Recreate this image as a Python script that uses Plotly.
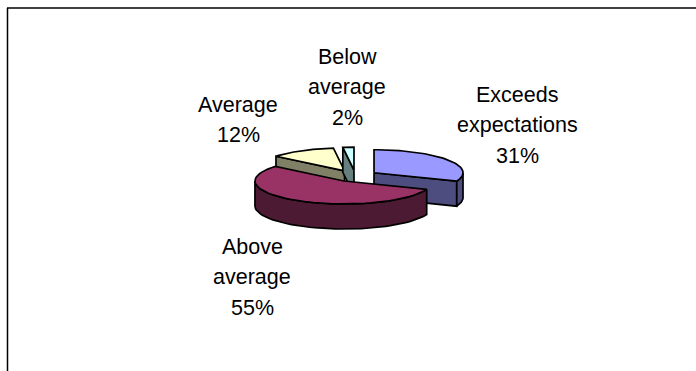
import numpy as np
import plotly.graph_objects as go

# Survey results shown as an exploded, tilted pie
categories = ["Exceeds expectations", "Above average", "Average", "Below average"]
values = [31, 55, 12, 2]
label_lines = [["Exceeds", "expectations", "31%"], ["Above", "average", "55%"], ["Average", "12%"], ["Below", "average", "2%"]]
top_colors = ["#9999FF", "#993366", "#FFFFCC", "#CCFFFF"]
side_colors = ["#4D4D80", "#4D1A33", "#808066", "#668080"]
label_x = [517, 252, 238, 347]
label_first_y = [95, 247, 105, 57]
LINE_STEP = 30.3

WIDTH, HEIGHT = 696, 371
CX, CY = 355.4, 176.0   # pie centre
RX, RY = 89.0, 23.0     # ellipse radii of the tilted disc
DEPTH = 25.0            # wall height
EXPLODE = 22.5          # slice pull-out along its bisector


def rim(cx, cy, a0, a1, n=48):
    t = np.radians(np.linspace(a0, a1, n))
    return cx + RX * np.sin(t), cy - RY * np.cos(t)


fig = go.Figure()


def poly(xs, ys, fill):
    fig.add_trace(go.Scatter(
        x=np.append(xs, xs[0]), y=np.append(ys, ys[0]), mode="lines",
        fill="toself", fillcolor=fill, hoverinfo="skip", showlegend=False,
        line=dict(color="black", width=1.7),
    ))


total = sum(values)
edges = np.concatenate([[0], np.cumsum(values)]) * 360.0 / total
slices = []
for i in range(len(values)):
    a0, a1 = edges[i], edges[i + 1]
    mid = np.radians((a0 + a1) / 2)
    cx = CX + EXPLODE * np.sin(mid)
    cy = CY - EXPLODE * RY / RX * np.cos(mid)
    slices.append((i, a0, a1, cx, cy))

# Painter's order: rear slices first, the large front slice last
for i, a0, a1, cx, cy in [slices[2], slices[3], slices[0], slices[1]]:
    # Cut faces
    for a in (a0, a1):
        rx_pt = cx + RX * np.sin(np.radians(a))
        ry_pt = cy - RY * np.cos(np.radians(a))
        visible = (i == 0 and a == a1) or (i == 2 and a == a0) or (i == 3 and a == a0)
        if visible:
            poly(np.array([cx, rx_pt, rx_pt, cx]),
                 np.array([cy, ry_pt, ry_pt + DEPTH, cy + DEPTH]), side_colors[i])
    # Outer wall on the part of the rim facing the viewer
    lo, hi = max(a0, 90), min(a1, 270)
    if lo < hi:
        x, y = rim(cx, cy, lo, hi)
        poly(np.concatenate([x, x[::-1]]), np.concatenate([y, y[::-1] + DEPTH]), side_colors[i])
    # Top face
    x, y = rim(cx, cy, a0, a1)
    poly(np.concatenate([[cx], x]), np.concatenate([[cy], y]), top_colors[i])

for lines, lx, ly in zip(label_lines, label_x, label_first_y):
    for k, line in enumerate(lines):
        fig.add_annotation(x=lx, y=ly + k * LINE_STEP, text=line, showarrow=False, align="center",
                           font=dict(family="Liberation Sans", size=21.5, color="black"))

# Chart-area frame, cut off by the page on the right and at the bottom
fig.add_shape(type="line", x0=7, y0=8, x1=WIDTH, y1=8, line=dict(color="black", width=1.5))
fig.add_shape(type="line", x0=7.5, y0=8, x1=7.5, y1=HEIGHT, line=dict(color="black", width=1.5))

fig.update_layout(
    width=WIDTH, height=HEIGHT, margin=dict(l=0, r=0, t=0, b=0),
    paper_bgcolor="white", plot_bgcolor="white", showlegend=False,
    xaxis=dict(range=[0, WIDTH], visible=False),
    yaxis=dict(range=[HEIGHT, 0], visible=False),
)
fig.write_html("out.html")
